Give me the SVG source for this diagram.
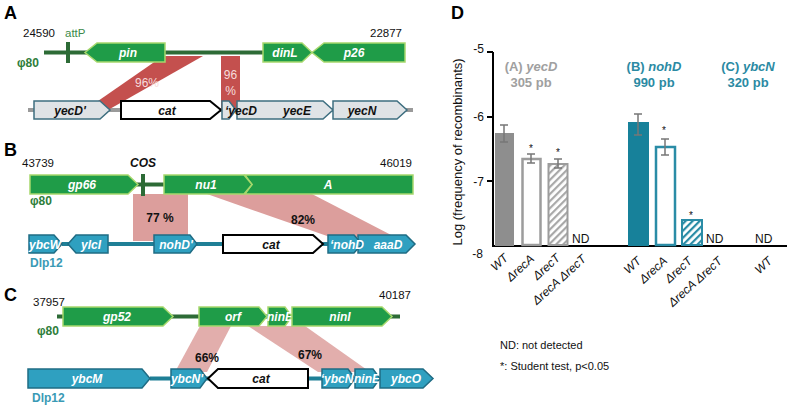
<svg xmlns="http://www.w3.org/2000/svg" width="790" height="405" viewBox="0 0 790 405">
<style>
text{font-family:"Liberation Sans",Arial,sans-serif}
.pl{fill:#1f9c48;stroke:#a6d86c;stroke-width:1.5}
.cg{fill:#dfe3e6;stroke:#3e6f80;stroke-width:1.5}
.tg{fill:#2fa0c0;stroke:#1f6c84;stroke-width:1.5}
.cat{fill:#fff;stroke:#000;stroke-width:2}
.gw{fill:#fff;font-size:12px;font-weight:bold;font-style:italic;text-anchor:middle}
.gb{fill:#111;font-size:12px;font-weight:bold;font-style:italic;text-anchor:middle}
.num{fill:#111;font-size:11.5px}
.pan{fill:#000;font-size:18px;font-weight:bold}
.phi{fill:#2e7d3a;font-size:12px;font-weight:bold}
.dlp{fill:#3a9ab5;font-size:12px;font-weight:bold}
.dline{stroke:#2d6b36;stroke-width:4;fill:none}
.tline{stroke:#1f7f96;stroke-width:4;fill:none}
.band{fill:#dc9e9c}
.pct{fill:#111;font-size:12px;font-weight:bold;text-anchor:middle}
.ax{stroke:#000;stroke-width:2;fill:none}
.tick{fill:#111;font-size:12px;text-anchor:end}
.err{stroke:#777;stroke-width:1.5;fill:none}
.xl{fill:#111;font-size:12px;font-style:italic;text-anchor:end}
.star{fill:#111;font-size:10px;text-anchor:middle}
.nd{fill:#111;font-size:12px}
.tA{fill:#a0a0a0;font-size:13px;font-weight:bold;text-anchor:middle}
.tB{fill:#2b8aa3;font-size:13px;font-weight:bold;text-anchor:middle}
</style>
<defs>
<pattern id="hatchG" width="5" height="5" patternUnits="userSpaceOnUse" patternTransform="rotate(45)">
<rect width="5" height="5" fill="#fff"/><rect width="2.2" height="5" fill="#a8a8a8"/>
</pattern>
<pattern id="hatchT" width="5" height="5" patternUnits="userSpaceOnUse" patternTransform="rotate(45)">
<rect width="5" height="5" fill="#fff"/><rect width="2.2" height="5" fill="#2a8ca6"/>
</pattern>
</defs>

<!-- Panel A -->
<text class="pan" x="4" y="19">A</text>
<text class="num" x="23" y="37">24590</text>
<text x="65" y="37" style="fill:#3c8a4a;font-size:11.5px">attP</text>
<text class="num" x="370" y="37">22877</text>
<text class="phi" x="17" y="67">φ80</text>
<g id="connectors">
<line class="dline" x1="44" y1="52.5" x2="263" y2="52.5"/>
<line x1="28" y1="110" x2="413" y2="110" stroke="#9a9a9a" stroke-width="4"/>
<line class="tline" x1="62" y1="244" x2="330" y2="244"/>
<line class="dline" x1="136" y1="184.5" x2="164" y2="184.5"/>
<line class="dline" x1="57" y1="316.5" x2="400" y2="316.5"/>
<line class="tline" x1="150" y1="378.5" x2="322" y2="378.5"/>
</g>
<g id="attP"><rect x="66" y="42" width="4" height="21" fill="#2d6b36"/></g>
<g id="bandA1"><polygon points="163,56 203,56 108,110 85,110" fill="#c4504e"/>
<text x="135" y="87" style="fill:#f6dcdc;font-size:12px">96%</text></g>
<g id="bandA2"><rect x="221" y="56" width="19" height="54" fill="#c4504e"/>
<text x="230.5" y="79" style="fill:#f6dcdc;font-size:12px;text-anchor:middle">96</text>
<text x="230.5" y="95" style="fill:#f6dcdc;font-size:12px;text-anchor:middle">%</text></g>
<g id="pin"><polygon class="pl" points="85,52.5 97,43 165,43 165,62 97,62"/><text class="gw" x="128" y="57">pin</text></g>
<g id="dinL"><polygon class="pl" points="263,43 302,43 312,52.5 302,62 263,62"/><text class="gw" x="285" y="57">dinL</text></g>
<g id="p26"><polygon class="pl" points="312,52.5 324,43 405,43 405,62 324,62"/><text class="gw" x="354" y="57">p26</text></g>
<g id="yecDp"><polygon class="cg" points="34,101 100,101 110,110 100,119 34,119"/><text class="gb" x="70" y="114.5">yecD'</text></g>
<g id="catA"><polygon class="cat" points="121,101 210,101 221,110 210,119 121,119"/><text class="gb" x="167" y="114.5">cat</text></g>
<g id="yecE"><polygon class="cg" points="237,101 323,101 333,110 323,119 237,119"/><text class="gb" x="297" y="114.5">yecE</text></g>
<g id="pyecD"><polygon class="cg" points="222,101 229,101 236,110 229,119 222,119"/><text class="gb" x="241" y="114.5">‘yecD</text></g>
<g id="yecN"><polygon class="cg" points="333,101 397,101 407,110 397,119 333,119"/><text class="gb" x="362" y="114.5">yecN</text></g>

<!-- Panel B -->
<text class="pan" x="4" y="156">B</text>
<text class="num" x="22" y="167">43739</text>
<text x="130" y="167" style="fill:#111;font-size:12px;font-weight:bold;font-style:italic">COS</text>
<text class="num" x="380" y="167">46019</text>
<text class="phi" x="30" y="205">φ80</text>
<text class="dlp" x="30" y="267">Dlp12</text>
<g id="bandB1"><rect x="133" y="194" width="55" height="47" class="band"/><text class="pct" x="160" y="222">77 %</text></g>
<g id="bandB2"><polygon class="band" points="207,194 312,194 395,237 330,237"/><text class="pct" x="303" y="224">82%</text></g>
<g id="gp66"><polygon class="pl" points="30,175 128,175 138,184.5 128,194 30,194"/><text class="gw" x="82" y="189">gp66</text></g>
<g id="COS"><rect x="141" y="174" width="4" height="22" fill="#2d6b36"/></g>
<g id="geneA"><polygon class="pl" points="245,175 413,175 413,194 245,194 252,184.5"/><text class="gw" x="328" y="189">A</text></g>
<g id="nu1"><polygon class="pl" points="164,175 244,175 252,184.5 244,194 164,194"/><text class="gw" x="206" y="189">nu1</text></g>
<g id="ybcW"><polygon class="tg" points="29,235 54,235 62,244 54,253 29,253"/><text class="gw" x="45" y="248.5">ybcW</text></g>
<g id="ylcl"><polygon class="tg" points="68,244 76,235 108,235 108,253 76,253"/><text class="gw" x="91" y="248.5">ylcI</text></g>
<g id="nohDp"><polygon class="tg" points="154,235 190,235 197,244 190,253 154,253"/><text class="gw" x="176" y="248.5">nohD'</text></g>
<g id="catB"><polygon class="cat" points="223,235 313,235 323,244 313,253 223,253"/><text class="gb" x="271" y="248.5">cat</text></g>
<g id="aaaD"><polygon class="tg" points="358,235 406,235 415,244 406,253 358,253"/><text class="gw" x="388" y="248.5">aaaD</text></g>
<g id="pnohD"><polygon class="tg" points="328,235 354,235 362,244 354,253 328,253"/><text class="gw" x="347" y="248.5">‘nohD</text></g>

<!-- Panel C -->
<text class="pan" x="4" y="301">C</text>
<text class="num" x="33" y="306">37957</text>
<text class="num" x="379" y="299">40187</text>
<text class="phi" x="37" y="335">φ80</text>
<text class="dlp" x="32" y="402">Dlp12</text>
<g id="bandC1"><polygon class="band" points="200,326 231,326 207,372 175,372" style="fill:#e2aeac"/><text class="pct" x="207" y="362">66%</text></g>
<g id="bandC2"><polygon class="band" points="248,326 305,326 370,372 318,372" style="fill:#e2aeac"/><text class="pct" x="310" y="359">67%</text></g>
<g id="gp52"><polygon class="pl" points="63,307 163,307 173,316.5 163,326 63,326"/><text class="gw" x="117" y="321">gp52</text></g>
<g id="orf"><polygon class="pl" points="199,307 259,307 267,316.5 259,326 199,326"/><text class="gw" x="233" y="321">orf</text></g>
<g id="ninEp"><polygon class="pl" points="268,307 285,307 292,316.5 285,326 268,326"/><text class="gw" x="280" y="321">ninE</text></g>
<g id="ninI"><polygon class="pl" points="292,307 382,307 392,316.5 382,326 292,326"/><text class="gw" x="340" y="321">ninI</text></g>
<g id="ybcM"><polygon class="tg" points="28,369 142,369 150,378.5 142,388 28,388"/><text class="gw" x="87" y="383">ybcM</text></g>
<g id="ybcNp"><polygon class="tg" points="171,369 200,369 207,378.5 200,388 171,388"/><text class="gw" x="187" y="383">ybcN'</text></g>
<g id="catC"><polygon class="cat" points="208,378.5 218,369 308,369 308,388 218,388"/><text class="gb" x="261" y="383">cat</text></g>
<g id="pybcN"><polygon class="tg" points="322,369 348,369 355,378.5 348,388 322,388"/><text class="gw" x="337" y="383">‘ybcN</text></g>
<g id="ninEc"><polygon class="tg" points="355,369 373,369 380,378.5 373,388 355,388"/><text class="gw" x="367" y="383">ninE</text></g>
<g id="ybcO"><polygon class="tg" points="380,369 423,369 433,378.5 423,388 380,388"/><text class="gw" x="406" y="383">ybcO</text></g>

<!-- Panel D -->
<g id="chart">
<text class="pan" x="451" y="19">D</text>
<path class="ax" d="M493,52 V246 H787 M487,52 H493 M487,117 H493 M487,181 H493"/>
<text class="tick" x="484" y="53">-5</text>
<text class="tick" x="484" y="121">-6</text>
<text class="tick" x="484" y="186">-7</text>
<text class="tick" x="483" y="258">-8</text>
<text transform="translate(462,152) rotate(-90)" style="fill:#111;font-size:13px;text-anchor:middle">Log (frequency of recombinants)</text>
<text class="tA" x="531" y="71">(A) <tspan font-style="italic">yecD</tspan></text>
<text class="tA" x="531" y="87">305 pb</text>
<text class="tB" x="654" y="71">(B) <tspan font-style="italic">nohD</tspan></text>
<text class="tB" x="654" y="87">990 pb</text>
<text class="tB" x="748" y="71">(C) <tspan font-style="italic">ybcN</tspan></text>
<text class="tB" x="748" y="87">320 pb</text>
<rect x="495" y="133" width="19" height="113" fill="#8e8e8e"/>
<rect x="522.5" y="159" width="18" height="86" fill="#fff" stroke="#9c9c9c" stroke-width="2.5"/>
<rect x="548.5" y="164" width="19" height="81" fill="url(#hatchG)" stroke="#9c9c9c" stroke-width="2"/>
<rect x="628" y="122" width="21" height="124" fill="#17819a"/>
<rect x="656" y="147" width="19" height="98" fill="#fff" stroke="#2a8ca6" stroke-width="2.5"/>
<rect x="682" y="220" width="20" height="25" fill="url(#hatchT)" stroke="#2a8ca6" stroke-width="2"/>
<path class="err" d="M504,125 V142 M500,125 H508 M500,142 H508 M531,154 V163 M527,154 H535 M527,163 H535 M558,159 V168 M554,159 H562 M554,168 H562 M638,114 V135 M634,114 H642 M634,135 H642 M665,139 V155 M661,139 H669 M661,155 H669"/>
<text class="star" x="531" y="151.5">*</text>
<text class="star" x="558" y="155.5">*</text>
<text class="star" x="664" y="133.5">*</text>
<text class="star" x="691" y="219">*</text>
<text class="nd" x="572" y="243">ND</text>
<text class="nd" x="706" y="243">ND</text>
<text class="nd" x="755" y="243">ND</text>
<text class="xl" transform="translate(509,259) rotate(-42)">WT</text>
<text class="xl" transform="translate(535,260) rotate(-42)">ΔrecA</text>
<text class="xl" transform="translate(561,259) rotate(-42)">ΔrecT</text>
<text class="xl" transform="translate(587,260) rotate(-42)">ΔrecA ΔrecT</text>
<text class="xl" transform="translate(642,262) rotate(-42)">WT</text>
<text class="xl" transform="translate(668,262) rotate(-42)">ΔrecA</text>
<text class="xl" transform="translate(693,262) rotate(-42)">ΔrecT</text>
<text class="xl" transform="translate(723,262) rotate(-42)">ΔrecA ΔrecT</text>
<text class="xl" transform="translate(773,262) rotate(-42)">WT</text>
<text x="500" y="349" style="fill:#111;font-size:11px">ND: not detected</text>
<text x="500" y="370" style="fill:#111;font-size:11px">*: Student test, p&lt;0.05</text>
</g>
</svg>
